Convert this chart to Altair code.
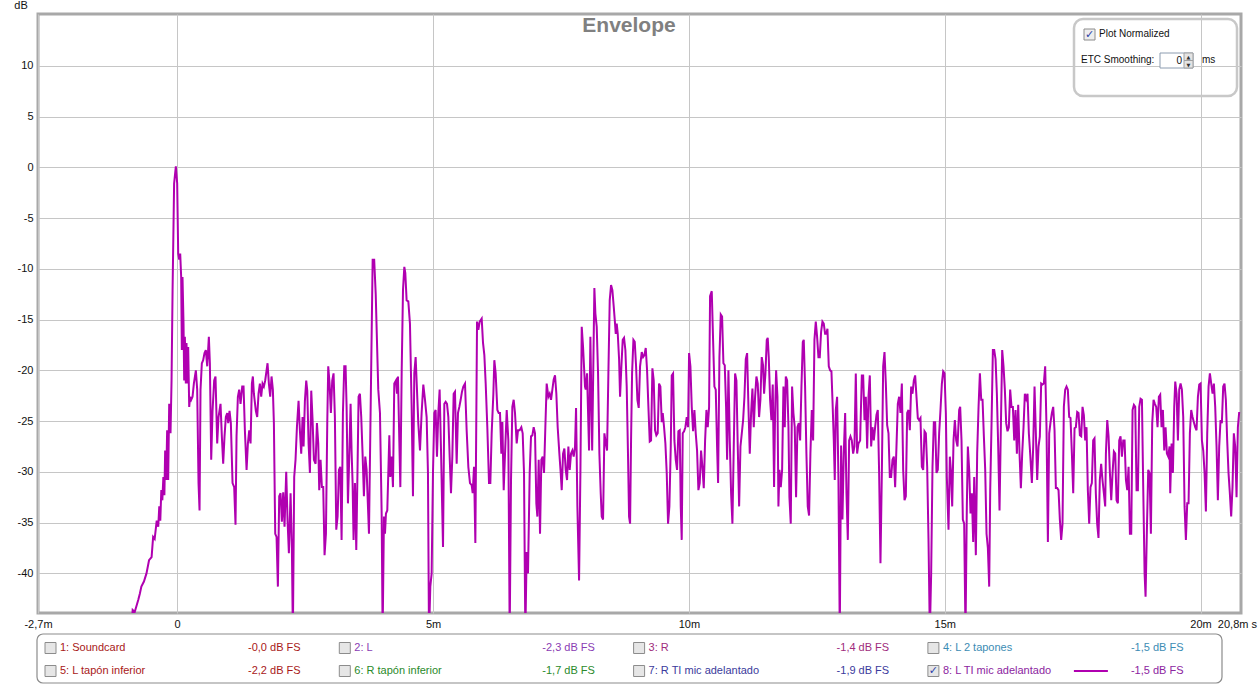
import altair as alt
import pandas as pd

# ---- envelope trace (time in ms, level in dB) ----
seg_onset = [(-0.90, -46.0), (-0.87, -43.6), (-0.83, -43.8), (-0.76, -42.6), (-0.73, -42.0), (-0.70, -41.3),
             (-0.65, -40.8), (-0.60, -40.0), (-0.55, -38.7), (-0.50, -38.4), (-0.47, -36.4), (-0.44, -36.6),
             (-0.40, -34.8), (-0.37, -35.4), (-0.35, -33.4), (-0.33, -34.8), (-0.31, -31.8), (-0.29, -32.8),
             (-0.27, -30.5), (-0.25, -32.3), (-0.235, -27.9), (-0.215, -30.8), (-0.196, -25.9), (-0.176, -30.8),
             (-0.156, -23.3), (-0.13, -26.2), (-0.11, -21.0), (-0.09, -12.1), (-0.06, -1.6), (-0.026, 0.1),
             (0.0, -1.6), (0.02, -8.5), (0.039, -9.1), (0.059, -8.5), (0.078, -10.8), (0.091, -18.0),
             (0.104, -10.8)]

seg_a = [(0.124, -15.4), (0.137, -21.0), (0.15, -16.7), (0.169, -21.3), (0.182, -17.3), (0.202, -21.3),
         (0.215, -17.7), (0.235, -23.6), (0.254, -22.6), (0.274, -22.9), (0.30, -22.6), (0.326, -21.3),
         (0.365, -20.0), (0.391, -21.9), (0.417, -31.1), (0.437, -33.8), (0.456, -21.9), (0.482, -19.3),
         (0.508, -19.0), (0.534, -18.3), (0.56, -18.0), (0.587, -19.6), (0.619, -16.7), (0.639, -19.3),
         (0.665, -28.8), (0.691, -24.0), (0.723, -21.0), (0.749, -20.6), (0.782, -27.2), (0.808, -24.6),
         (0.847, -23.3), (0.873, -26.5), (0.899, -29.2), (0.925, -26.5), (0.951, -24.6), (0.978, -24.2),
         (0.997, -25.2), (1.023, -24.0), (1.049, -25.2), (1.082, -31.1), (1.114, -31.5), (1.14, -35.2),
         (1.16, -26.5), (1.186, -22.6), (1.212, -21.9), (1.238, -23.3), (1.271, -21.6), (1.297, -21.6),
         (1.323, -25.9), (1.356, -29.8), (1.382, -27.2), (1.408, -25.9), (1.434, -27.2), (1.46, -21.3),
         (1.479, -20.6), (1.499, -22.3), (1.538, -24.0), (1.564, -24.6), (1.59, -22.3), (1.616, -21.3),
         (1.642, -22.6), (1.668, -21.3), (1.694, -21.6), (1.72, -21.0), (1.747, -20.0), (1.766, -19.3),
         (1.792, -21.3), (1.818, -22.6), (1.844, -20.6), (1.87, -21.9), (1.89, -25.2), (1.916, -36.1),
         (1.942, -36.4), (1.968, -41.3), (1.994, -32.4), (2.02, -32.1), (2.046, -34.9), (2.072, -32.0),
         (2.098, -35.4), (2.131, -30.0), (2.157, -34.8), (2.183, -38.0), (2.216, -32.1), (2.242, -37.7),
         (2.261, -46.0), (2.287, -30.5), (2.313, -28.8), (2.34, -25.6), (2.372, -23.0), (2.398, -25.9),
         (2.424, -28.2), (2.45, -24.6), (2.47, -27.5), (2.496, -23.0), (2.522, -21.0), (2.542, -22.0),
         (2.568, -27.2), (2.594, -30.1), (2.62, -22.0), (2.646, -24.9), (2.672, -28.8), (2.705, -29.2),
         (2.731, -25.2), (2.757, -27.2), (2.776, -31.8), (2.802, -28.8), (2.828, -31.5), (2.854, -31.5),
         (2.88, -38.2), (2.907, -36.1), (2.933, -25.2), (2.952, -19.6), (2.978, -21.3), (3.004, -24.2),
         (3.03, -21.0), (3.056, -20.3), (3.082, -24.6), (3.109, -35.7), (3.135, -34.4), (3.161, -29.8),
         (3.187, -29.5), (3.213, -36.7), (3.239, -24.2), (3.265, -19.6), (3.291, -19.6), (3.311, -23.6),
         (3.337, -33.1), (3.363, -28.5), (3.389, -23.3), (3.408, -27.9), (3.428, -31.1), (3.447, -36.7),
         (3.474, -31.1), (3.50, -37.7), (3.526, -29.2), (3.545, -22.6), (3.571, -22.3), (3.597, -24.6),
         (3.623, -28.2), (3.649, -32.4), (3.676, -28.5), (3.702, -29.8)]

seg_b = [(3.748, -36.1), (3.82, -9.1), (3.85, -9.1), (3.88, -12.5), (3.93, -21.9), (3.963, -24.2),
         (3.996, -34.1), (4.015, -46.0), (4.041, -34.4), (4.061, -36.1), (4.08, -34.1), (4.106, -33.8),
         (4.126, -30.1), (4.146, -26.4), (4.165, -30.5), (4.191, -28.5), (4.217, -31.5), (4.243, -21.3),
         (4.276, -21.0), (4.296, -22.3), (4.315, -20.6), (4.341, -26.9), (4.361, -31.5), (4.387, -20.3),
         (4.413, -12.1), (4.439, -9.8), (4.458, -10.4), (4.484, -13.1), (4.517, -13.2), (4.549, -15.4),
         (4.582, -23.6), (4.608, -32.4), (4.634, -20.3), (4.66, -18.7), (4.686, -21.9), (4.712, -25.2),
         (4.745, -27.9), (4.777, -24.2), (4.81, -21.4), (4.843, -22.9), (4.875, -24.6), (4.901, -30.1),
         (4.921, -46.0), (4.947, -41.3), (4.973, -40.0), (4.999, -30.1), (5.025, -24.2), (5.051, -23.9),
         (5.077, -28.5), (5.103, -24.2), (5.129, -21.9), (5.156, -27.9), (5.195, -37.4), (5.221, -23.3),
         (5.247, -23.1), (5.273, -23.3), (5.299, -24.6), (5.325, -28.5), (5.351, -32.1), (5.377, -28.5),
         (5.403, -22.3), (5.429, -22.1), (5.462, -29.2), (5.488, -24.2), (5.514, -23.6), (5.54, -22.9),
         (5.566, -22.1), (5.592, -21.6), (5.625, -21.3), (5.657, -25.9), (5.69, -29.5), (5.722, -31.1),
         (5.755, -31.3), (5.775, -32.1), (5.801, -29.5), (5.827, -37.0), (5.86, -15.2), (5.886, -16.0),
         (5.912, -15.2), (5.951, -14.9), (5.977, -17.3), (6.003, -18.5), (6.029, -21.3), (6.061, -25.6),
         (6.094, -31.1), (6.12, -31.1), (6.146, -26.2), (6.179, -22.3), (6.198, -19.0), (6.224, -20.3),
         (6.257, -23.9), (6.283, -24.2), (6.309, -24.2), (6.335, -28.2), (6.355, -25.1), (6.381, -31.8),
         (6.407, -28.2), (6.44, -23.9), (6.472, -26.9), (6.498, -46.0), (6.524, -30.8), (6.55, -23.6),
         (6.576, -22.9), (6.602, -24.2), (6.635, -27.2), (6.661, -25.9), (6.693, -25.9), (6.726, -25.6),
         (6.752, -26.2), (6.778, -30.1), (6.804, -46.0), (6.83, -37.9), (6.856, -40.0), (6.889, -30.1),
         (6.915, -26.5), (6.941, -26.4), (6.967, -25.6), (6.993, -26.2), (7.019, -33.1), (7.039, -34.4),
         (7.065, -28.8), (7.091, -36.1), (7.117, -28.8), (7.143, -28.5), (7.169, -30.1), (7.195, -25.6),
         (7.221, -21.3), (7.254, -22.6), (7.28, -22.3), (7.306, -22.9), (7.332, -21.9), (7.358, -20.9),
         (7.384, -20.5), (7.41, -22.3), (7.436, -25.6), (7.469, -28.2), (7.495, -30.1), (7.515, -31.8),
         (7.541, -28.2), (7.567, -27.7), (7.593, -29.8), (7.619, -30.8), (7.645, -27.5), (7.671, -29.8),
         (7.697, -28.2), (7.723, -27.9), (7.749, -28.5), (7.775, -27.5), (7.795, -23.7), (7.821, -33.4),
         (7.854, -40.7), (7.88, -30.1), (7.906, -15.7), (7.932, -17.7), (7.97, -21.6), (7.984, -21.9),
         (8.01, -20.3), (8.049, -27.9), (8.075, -16.7), (8.11, -27.9), (8.153, -11.9), (8.173, -14.4),
         (8.199, -15.7), (8.225, -20.3), (8.251, -28.2), (8.277, -32.1), (8.297, -34.4), (8.323, -34.7),
         (8.349, -26.2), (8.368, -26.9), (8.401, -27.9), (8.427, -20.3), (8.453, -13.1), (8.479, -11.6),
         (8.505, -12.1), (8.531, -13.7), (8.557, -15.4)]

seg_c = [(8.571, -16.4), (8.59, -15.4), (8.61, -16.4), (8.636, -18.9), (8.655, -22.6), (8.681, -19.6),
         (8.707, -17.0), (8.733, -16.8), (8.759, -18.0), (8.785, -21.6), (8.811, -28.5), (8.831, -34.4),
         (8.851, -35.1), (8.87, -26.9), (8.89, -20.3), (8.916, -17.0), (8.942, -17.2), (8.968, -19.6),
         (8.994, -22.9), (9.02, -23.7), (9.046, -19.6), (9.079, -18.2), (9.105, -18.7), (9.131, -18.5),
         (9.157, -17.8), (9.183, -20.0), (9.209, -23.6), (9.235, -27.0), (9.261, -26.9), (9.287, -19.8),
         (9.313, -21.0), (9.339, -25.9), (9.365, -26.4), (9.391, -26.2), (9.417, -21.3), (9.443, -21.6),
         (9.47, -25.1), (9.489, -24.2), (9.515, -25.6), (9.541, -27.2), (9.567, -30.1), (9.593, -35.1),
         (9.619, -33.4), (9.646, -27.5), (9.665, -20.5), (9.691, -20.3), (9.717, -26.9), (9.743, -28.8),
         (9.769, -29.8), (9.795, -26.0), (9.821, -25.9), (9.841, -33.4), (9.86, -36.7), (9.88, -26.2),
         (9.906, -26.0), (9.932, -25.6), (9.958, -24.6), (9.984, -25.6), (10.004, -18.3), (10.03, -19.6),
         (10.056, -23.6), (10.082, -26.0), (10.108, -23.9), (10.134, -26.2), (10.16, -27.9), (10.186, -31.8),
         (10.212, -31.1), (10.238, -27.9), (10.264, -29.5), (10.291, -31.6), (10.317, -26.9), (10.343, -23.9),
         (10.369, -25.6), (10.395, -23.6), (10.414, -12.7), (10.447, -12.2), (10.473, -17.0), (10.499, -21.6),
         (10.525, -21.9), (10.551, -27.5), (10.571, -31.1), (10.597, -18.7), (10.623, -14.5), (10.649, -14.7),
         (10.675, -19.3), (10.701, -19.5), (10.727, -23.6), (10.747, -28.8), (10.773, -20.0), (10.799, -26.9),
         (10.825, -32.1), (10.851, -35.1), (10.877, -27.5), (10.903, -20.3), (10.929, -21.0), (10.955, -27.5),
         (10.982, -33.4), (11.008, -27.5), (11.034, -26.2), (11.06, -24.9), (11.086, -22.6), (11.112, -18.9),
         (11.138, -18.3), (11.164, -23.6), (11.19, -28.2), (11.216, -24.2), (11.242, -21.8), (11.268, -25.6),
         (11.294, -22.6), (11.32, -20.6), (11.346, -21.3), (11.372, -24.6), (11.398, -22.9), (11.424, -18.7),
         (11.45, -19.5), (11.47, -22.3), (11.496, -20.3), (11.522, -17.0), (11.541, -16.8), (11.561, -18.7),
         (11.587, -22.9), (11.613, -24.9), (11.639, -21.4), (11.665, -31.5), (11.685, -24.2), (11.705, -20.0),
         (11.731, -22.6), (11.75, -33.4), (11.77, -29.8), (11.796, -31.5), (11.822, -29.8), (11.848, -21.6),
         (11.874, -25.6), (11.894, -20.6), (11.92, -21.0), (11.946, -25.6), (11.965, -32.5), (11.991, -35.1),
         (12.017, -21.6), (12.043, -24.2), (12.069, -25.6), (12.095, -32.5), (12.122, -25.6), (12.148, -25.2),
         (12.174, -26.9), (12.2, -21.6), (12.226, -17.2), (12.245, -17.0), (12.271, -21.6), (12.297, -28.2),
         (12.323, -33.4), (12.349, -34.3), (12.375, -28.2), (12.402, -23.9), (12.428, -26.9), (12.454, -17.0),
         (12.48, -15.2), (12.506, -16.7), (12.532, -18.7), (12.558, -18.7), (12.584, -16.2), (12.61, -15.2),
         (12.636, -15.4), (12.662, -16.4), (12.688, -16.4), (12.708, -15.9), (12.734, -19.6), (12.76, -20.0),
         (12.786, -20.1), (12.806, -22.9), (12.832, -26.9), (12.851, -30.8), (12.871, -23.9), (12.897, -22.6),
         (12.923, -30.8), (12.949, -46.0), (12.975, -27.4), (13.001, -34.7), (13.027, -28.2), (13.054, -24.2),
         (13.08, -32.1), (13.106, -36.7), (13.132, -26.9), (13.158, -26.5), (13.184, -26.9), (13.21, -28.2),
         (13.236, -27.5), (13.262, -20.3), (13.288, -28.2), (13.314, -27.2), (13.347, -26.9)]

seg_d = [(13.353, -25.6), (13.38, -20.5), (13.406, -20.5), (13.432, -24.9), (13.458, -22.6), (13.484, -27.7),
         (13.51, -22.6), (13.536, -20.5), (13.562, -27.5), (13.588, -25.6), (13.614, -26.9), (13.64, -25.6),
         (13.666, -24.4), (13.692, -23.9), (13.718, -30.1), (13.744, -39.0), (13.771, -30.1), (13.797, -19.6),
         (13.823, -18.2), (13.849, -21.3), (13.875, -25.4), (13.901, -26.2), (13.927, -30.5), (13.953, -30.5),
         (13.979, -28.8), (14.005, -28.5), (14.031, -31.5), (14.057, -27.5), (14.083, -23.3), (14.109, -22.6),
         (14.135, -24.2), (14.162, -21.3), (14.188, -29.8), (14.214, -32.8), (14.24, -32.4), (14.266, -24.2),
         (14.292, -23.9), (14.318, -25.9), (14.344, -21.6), (14.37, -22.3), (14.396, -21.0), (14.422, -20.5),
         (14.448, -22.6), (14.474, -24.7), (14.5, -24.9), (14.526, -24.7), (14.553, -29.5), (14.579, -29.8),
         (14.605, -26.0), (14.631, -26.2), (14.657, -29.5), (14.683, -36.7), (14.709, -46.0), (14.735, -40.0),
         (14.761, -29.5), (14.787, -25.1), (14.813, -25.1), (14.839, -30.1), (14.865, -29.8), (14.891, -26.2),
         (14.917, -23.9), (14.944, -21.3), (14.97, -20.1), (14.996, -20.3), (15.022, -24.2), (15.041, -30.5),
         (15.074, -35.7), (15.1, -28.5), (15.12, -29.8), (15.146, -33.4), (15.172, -26.9), (15.198, -24.9),
         (15.224, -26.9), (15.25, -27.5), (15.282, -23.9), (15.302, -23.6), (15.328, -26.9), (15.354, -34.7),
         (15.38, -35.1), (15.406, -46.0), (15.432, -33.4), (15.452, -27.5), (15.478, -29.8), (15.504, -34.1),
         (15.53, -32.1), (15.556, -36.9), (15.576, -30.5), (15.608, -38.2), (15.634, -28.2), (15.661, -23.6),
         (15.687, -20.3), (15.713, -22.9), (15.739, -22.9), (15.765, -26.5), (15.791, -29.8), (15.817, -36.1),
         (15.843, -37.5), (15.869, -41.3), (15.889, -31.8), (15.915, -25.2), (15.941, -18.0), (15.967, -18.0),
         (15.993, -18.9), (16.019, -22.3), (16.045, -27.5), (16.071, -33.8), (16.097, -25.6), (16.123, -18.0),
         (16.149, -19.6), (16.175, -21.9), (16.201, -25.2), (16.227, -26.0), (16.253, -25.6), (16.279, -21.9),
         (16.305, -23.6), (16.332, -23.6), (16.358, -26.9), (16.384, -23.9), (16.41, -28.2), (16.436, -23.4),
         (16.462, -28.2), (16.488, -31.6), (16.514, -28.2), (16.54, -25.6), (16.566, -22.3), (16.592, -22.8),
         (16.618, -22.3), (16.644, -26.2), (16.67, -28.2), (16.703, -31.1), (16.729, -27.5), (16.755, -21.6),
         (16.781, -26.2), (16.807, -30.8), (16.833, -27.5), (16.859, -26.5), (16.885, -21.3), (16.911, -21.4),
         (16.937, -21.3), (16.963, -19.6), (16.989, -25.6), (17.016, -36.9), (17.042, -26.2), (17.068, -25.1),
         (17.094, -24.2), (17.12, -23.6), (17.146, -25.9), (17.172, -31.6), (17.198, -31.6), (17.224, -31.8),
         (17.25, -34.7), (17.276, -36.7), (17.302, -35.1), (17.328, -23.6), (17.354, -21.9), (17.38, -21.6),
         (17.406, -21.9), (17.432, -24.6), (17.458, -24.7), (17.485, -28.2), (17.511, -32.1), (17.537, -25.7),
         (17.563, -25.6), (17.589, -24.1), (17.615, -24.2), (17.641, -26.4), (17.667, -26.5), (17.693, -23.6),
         (17.719, -24.4), (17.745, -26.9), (17.771, -25.6), (17.797, -31.8), (17.823, -35.1), (17.849, -31.5),
         (17.875, -31.1), (17.901, -26.9), (17.927, -26.7), (17.953, -32.1), (17.979, -35.1), (18.005, -36.5),
         (18.031, -30.8), (18.057, -29.2), (18.083, -30.8), (18.11, -32.1), (18.136, -33.4)]

seg_e = [(18.15, -28.2), (18.176, -24.9), (18.202, -26.5), (18.228, -30.1), (18.254, -32.8), (18.28, -30.1),
         (18.306, -28.0), (18.332, -28.2), (18.358, -32.8), (18.384, -33.1), (18.41, -26.9), (18.436, -26.5),
         (18.463, -28.5), (18.489, -26.9), (18.515, -26.9), (18.541, -30.8), (18.567, -31.8), (18.593, -29.5),
         (18.619, -36.1), (18.645, -36.1), (18.671, -23.9), (18.697, -23.4), (18.723, -23.6), (18.749, -31.8),
         (18.775, -31.8), (18.801, -23.6), (18.827, -22.8), (18.854, -22.9), (18.88, -31.8), (18.906, -40.0),
         (18.925, -42.3), (18.951, -35.7), (18.977, -29.8), (19.003, -30.1), (19.029, -36.1), (19.055, -25.2),
         (19.081, -22.9), (19.107, -23.3), (19.133, -23.6), (19.159, -25.6), (19.185, -22.6), (19.211, -22.4),
         (19.237, -25.6), (19.264, -23.9), (19.29, -27.9), (19.316, -25.6), (19.342, -28.2), (19.368, -28.5),
         (19.394, -27.5), (19.407, -32.1), (19.433, -27.2), (19.459, -30.1), (19.485, -23.6), (19.505, -21.1),
         (19.531, -22.3), (19.557, -26.9), (19.583, -21.9), (19.609, -21.3), (19.635, -21.9), (19.661, -24.6),
         (19.687, -33.4), (19.713, -36.7), (19.739, -33.1), (19.765, -33.1), (19.791, -26.2), (19.817, -23.9),
         (19.843, -24.6), (19.869, -25.1), (19.895, -25.6), (19.921, -25.9), (19.948, -22.6), (19.974, -21.4),
         (20.0, -21.3), (20.026, -26.9), (20.052, -27.9), (20.078, -30.1), (20.104, -33.9), (20.13, -26.2),
         (20.156, -21.6), (20.182, -20.3), (20.208, -21.3), (20.234, -22.3), (20.26, -21.3), (20.286, -23.6),
         (20.312, -27.5), (20.338, -32.8), (20.364, -27.5), (20.39, -24.9), (20.416, -25.2), (20.442, -21.6),
         (20.468, -21.3), (20.494, -22.9), (20.52, -26.9), (20.546, -30.1), (20.572, -32.1), (20.598, -34.4),
         (20.624, -31.5), (20.65, -26.2), (20.677, -27.5), (20.703, -32.5), (20.729, -25.6), (20.755, -24.1)]

# ---- axes ----
x_domain = [-2.72, 20.79]
y_domain = [-43.9, 15.1]
x_tick_values = [-2.72, 0, 5, 10, 15, 20]
x_tick_labels = ["-2,7m", "0", "5m", "10m", "15m", "20m"]
x_end_label = "20,8m s"
y_tick_values = [-40, -35, -30, -25, -20, -15, -10, -5, 0, 5, 10]

# ---- legend panel ----
legend_names = ["1: Soundcard", "2: L", "3: R", "4: L 2 tapones",
                "5: L tapón inferior", "6: R tapón inferior", "7: R TI mic adelantado", "8: L TI mic adelantado"]
legend_levels = ["-0,0 dB FS", "-2,3 dB FS", "-1,4 dB FS", "-1,5 dB FS",
                 "-2,2 dB FS", "-1,7 dB FS", "-1,9 dB FS", "-1,5 dB FS"]
legend_colors = ["#a81818", "#8a3cb4", "#a02c7c", "#3c8cb4",
                 "#a81818", "#2a8a2a", "#3a3a9c", "#8c24a0"]
legend_checked = [False, False, False, False, False, False, False, True]

LINE = "#b000b0"
FONT = "Liberation Sans"
W, H = 1203, 599

trace = seg_onset + seg_a + seg_b + seg_c + seg_d + seg_e
df = pd.DataFrame(trace, columns=["t", "db"])
one = pd.DataFrame({"k": [0]})

label_expr = " : ".join(
    f"datum.value == {v} ? '{l}'" for v, l in zip(x_tick_values, x_tick_labels)
) + " : ''"

line = alt.Chart(df).mark_line(color=LINE, strokeWidth=2, clip=True).encode(
    x=alt.X("t:Q", scale=alt.Scale(domain=x_domain, nice=False, zero=False),
            axis=alt.Axis(values=x_tick_values, labelExpr=label_expr, ticks=False, domain=False,
                          title=None, labelFlush=False, labelOverlap=False, labelPadding=5,
                          labelFontSize=11, labelFont=FONT, labelColor="#111111",
                          gridColor="#c6c6c6", gridWidth=1)),
    y=alt.Y("db:Q", scale=alt.Scale(domain=y_domain, nice=False, zero=False),
            axis=alt.Axis(values=y_tick_values, labelExpr="'' + datum.value", ticks=False, domain=False,
                          title=None, labelPadding=5, labelFontSize=11, labelFont=FONT,
                          labelColor="#111111", gridColor="#c6c6c6", gridWidth=1)),
)


def text(t, x, y, size=11, color="#111111", align="left", weight="normal", font=FONT):
    return alt.Chart(one).mark_text(text=t, align=align, baseline="middle", fontSize=size,
                                    color=color, fontWeight=weight, font=font).encode(
        x=alt.value(x), y=alt.value(y))


def box(x0, x1, y0, y1, fill="transparent", stroke="#999999", sw=1, radius=0):
    return alt.Chart(one).mark_rect(fill=fill, stroke=stroke, strokeWidth=sw, cornerRadius=radius).encode(
        x=alt.value(x0), x2=alt.value(x1), y=alt.value(y0), y2=alt.value(y1))


layers = [line]
layers.append(text("Envelope", 591, 12, size=21, color="#808080", align="center", weight="bold"))
layers.append(text("dB", -17, -8, align="center"))
layers.append(text(x_end_label, 1219, 611, align="right"))

# Plot Normalized panel
layers.append(box(1036, 1199, 5, 82, stroke="#c8c8c8", sw=2.5, radius=9))
layers.append(box(1046, 1057, 15, 26, fill="#eeeeee", stroke="#8c8c8c"))
layers.append(text("✓", 1051.5, 20.5, size=11, color="#2c3ea8", align="center", weight="bold", font="DejaVu Sans"))
layers.append(text("Plot Normalized", 1061, 20, size=10))
layers.append(text("ETC Smoothing:", 1043, 46, size=10))
layers.append(box(1122, 1155, 39, 54, fill="white", stroke="#8c9cb0"))
layers.append(text("0", 1144, 46.5, size=10, align="right"))
layers.append(box(1146, 1155, 39, 46.5, fill="#e4e4e4", stroke="#a0a0a0"))
layers.append(box(1146, 1155, 46.5, 54, fill="#e4e4e4", stroke="#a0a0a0"))
layers.append(text("▲", 1150.5, 43, size=5, color="#333333", align="center", font="DejaVu Sans"))
layers.append(text("▼", 1150.5, 50.5, size=5, color="#333333", align="center", font="DejaVu Sans"))
layers.append(text("ms", 1164, 46, size=10))

# bottom legend panel
layers.append(box(-1, 1184, 620, 669, stroke="#8c8c8c", sw=1.2, radius=6))
COL_STEP, ROW_STEP = 294.3, 23
for i, (nm, lv, c, chk) in enumerate(zip(legend_names, legend_levels, legend_colors, legend_checked)):
    col, row = i % 4, i // 4
    x0 = 7 + col * COL_STEP
    yc = 634 + row * ROW_STEP
    layers.append(box(x0, x0 + 11, yc - 5.5, yc + 5.5, fill="#e6e6e6", stroke="#8c8c8c"))
    if chk:
        layers.append(text("✓", x0 + 5.5, yc, size=11, color="#2c3ea8", align="center",
                           weight="bold", font="DejaVu Sans"))
        layers.append(alt.Chart(one).mark_rule(color=LINE, strokeWidth=2).encode(
            x=alt.value(x0 + 146), x2=alt.value(x0 + 180), y=alt.value(yc)))
    layers.append(text(nm, x0 + 15, yc, color=c))
    layers.append(text(lv, x0 + 203, yc, color=c))

chart = alt.layer(*layers).properties(
    width=W, height=H,
    autosize=alt.AutoSizeParams(type="none"),
    padding={"left": 38, "top": 14, "right": 18, "bottom": 72},
    background="white",
).configure_view(stroke="#a8a8a8", strokeWidth=3)

chart.save("out.html", embed_options={"renderer": "svg", "actions": False})
